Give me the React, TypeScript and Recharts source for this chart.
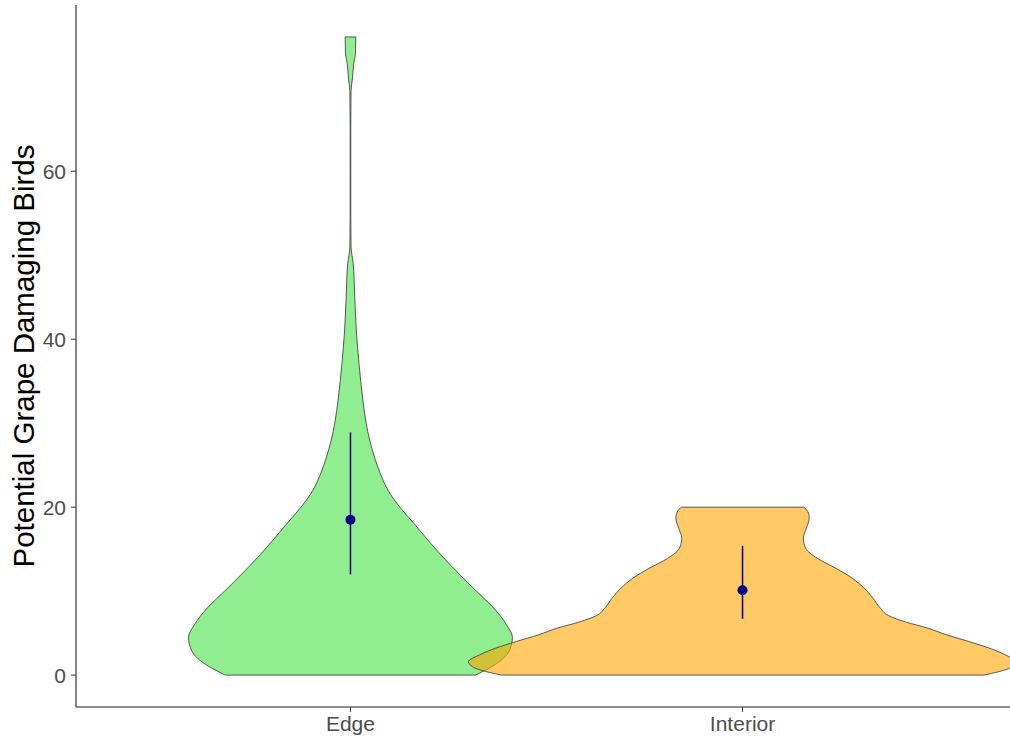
import React from 'react';
import {
  ComposedChart,
  Area,
  Scatter,
  ErrorBar,
  XAxis,
  YAxis,
  ReferenceLine,
} from 'recharts';

// groups on the x axis (positions 1, 2)
const categories = ['Edge', 'Interior'];
const yTicks = [0, 20, 40, 60];

// violin outlines: bird count level and half width (in category units)
const edgeLevels = [0, 1, 2, 3, 4.5, 6, 8, 10, 12, 14, 16, 18, 20, 22, 24, 26, 28, 30, 33, 37, 41, 45, 49, 51, 55, 60, 65, 69.6, 71, 72.9, 74, 76];
const edgeHalfWidth = [0.319, 0.36, 0.39, 0.406, 0.413, 0.398, 0.365, 0.321, 0.278, 0.237, 0.199, 0.163, 0.126, 0.096, 0.076, 0.061, 0.049, 0.04, 0.031, 0.022, 0.015, 0.011, 0.007, 0.0015, 0.0008, 0.0008, 0.0008, 0.0015, 0.005, 0.0085, 0.0128, 0.0135];

const interiorLevels = [0, 0.4, 1, 1.6, 2.4, 3.2, 4, 4.8, 5.6, 6.3, 7.1, 8, 9.2, 10.4, 11.5, 12.7, 13.9, 15.1, 16.3, 17.5, 18.7, 19.5, 20];
const interiorHalfWidth = [0.615, 0.653, 0.689, 0.699, 0.671, 0.63, 0.577, 0.52, 0.472, 0.418, 0.372, 0.351, 0.332, 0.309, 0.281, 0.239, 0.191, 0.161, 0.155, 0.163, 0.17, 0.166, 0.156];

// mean with lower / upper spread
const means = [18.5, 10.1];
const lowerErr = [6.5, 3.4];
const upperErr = [10.4, 5.3];

const buildViolin = (pos: number, levels: number[], half: number[]) =>
  levels.map((y, i) => ({ y, x: [pos - half[i], pos + half[i]] }));

const edgeData = buildViolin(1, edgeLevels, edgeHalfWidth);
const interiorData = buildViolin(2, interiorLevels, interiorHalfWidth);

const meanData = means.map((m, i) => ({ x: i + 1, y: m, err: [lowerErr[i], upperErr[i]] }));

const violins = [
  { key: 'Edge', data: edgeData, fill: '#90EE90', opacity: 1 },
  { key: 'Interior', data: interiorData, fill: '#FFA500', opacity: 0.6 },
];

const font = '"Liberation Sans", Arial, sans-serif';

// flat trimmed ends of each violin
const capSegments = violins.flatMap((v) => {
  const first = v.data[0];
  const last = v.data[v.data.length - 1];
  return [
    [{ x: first.x[0], y: first.y }, { x: first.x[1], y: first.y }],
    [{ x: last.x[0], y: last.y }, { x: last.x[1], y: last.y }],
  ];
});

const YLabel = (props: any) => {
  const vb = props.viewBox || {};
  const cy = vb.y + vb.height / 2;
  return (
    <text
      x={34}
      y={cy}
      transform={`rotate(-90, 34, ${cy})`}
      textAnchor="middle"
      fontSize={29.5}
      fontFamily={font}
      fill="#000"
    >
      Potential Grape Damaging Birds
    </text>
  );
};

const MeanDot = (props: any) => (
  <circle cx={props.cx} cy={props.cy} r={5} fill="#00008B" />
);

export default function App() {
  return (
    <div style={{ position: 'fixed', left: 0, top: 0, width: 1010, height: 742, overflow: 'hidden', background: '#fff' }}>
      <ComposedChart
        layout="vertical"
        width={1017}
        height={742}
        margin={{ top: 5, right: 0, bottom: 0, left: 0 }}
      >
        <XAxis
          type="number"
          dataKey="x"
          domain={[0.3, 2.7]}
          allowDataOverflow
          ticks={[1, 2]}
          tickFormatter={(v: number) => categories[v - 1]}
          height={35}
          tickSize={5}
          tickMargin={4}
          axisLine={{ stroke: '#222', strokeWidth: 1.1 }}
          tickLine={{ stroke: '#333' }}
          tick={{ fill: '#4D4D4D', fontSize: 21, fontFamily: font }}
        />
        <YAxis
          type="number"
          dataKey="y"
          reversed
          domain={[-3.8, 79.8]}
          allowDataOverflow
          ticks={yTicks}
          width={76}
          tickSize={5}
          tickMargin={5}
          axisLine={{ stroke: '#222', strokeWidth: 1.1 }}
          tickLine={{ stroke: '#333' }}
          tick={{ fill: '#4D4D4D', fontSize: 21, fontFamily: font }}
          label={<YLabel />}
        />
        {violins.map((v) => (
          <Area
            key={v.key}
            data={v.data}
            dataKey="x"
            type="monotone"
            fill={v.fill}
            fillOpacity={v.opacity}
            stroke="#333"
            strokeWidth={0.8}
            isAnimationActive={false}
            dot={false}
            activeDot={false}
          />
        ))}
        {capSegments.map((s, i) => (
          <ReferenceLine key={i} segment={s} stroke="#333" strokeWidth={0.8} />
        ))}
        <Scatter data={meanData} shape={<MeanDot />} isAnimationActive={false}>
          <ErrorBar dataKey="err" direction="y" width={0} stroke="#00008B" strokeWidth={1.5} isAnimationActive={false} />
        </Scatter>
      </ComposedChart>
    </div>
  );
}
